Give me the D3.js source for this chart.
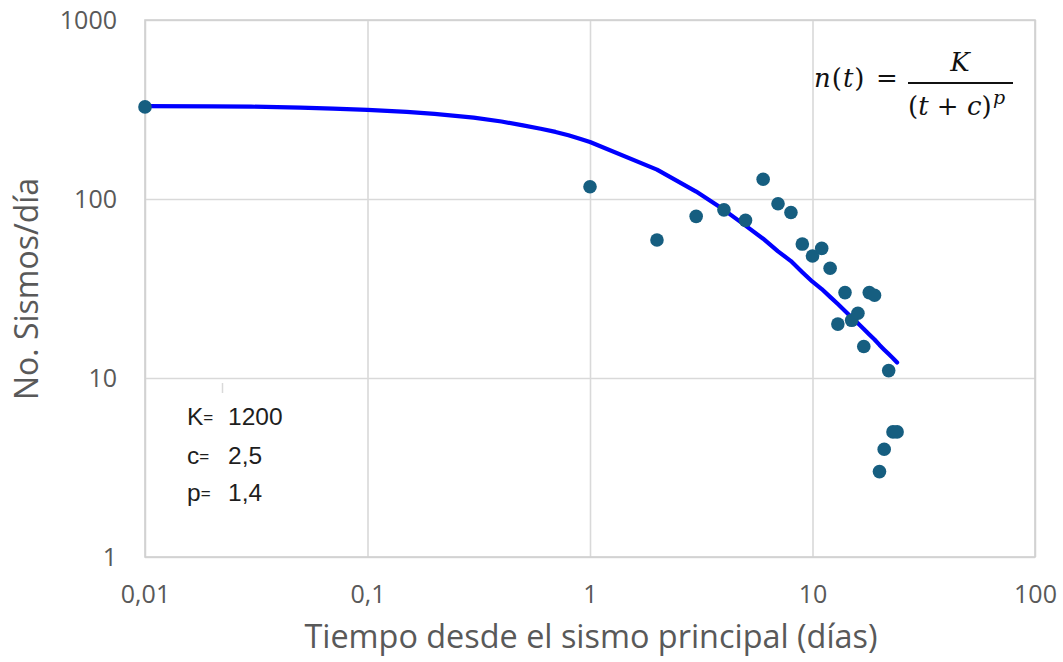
<!DOCTYPE html>
<html>
<head>
<meta charset="utf-8">
<script src="https://cdn.jsdelivr.net/npm/d3@7"></script>
<style>
  body { margin: 0; background: #fff; }
  svg { display: block; }
</style>
</head>
<body>
<svg id="chart" width="1063" height="662"></svg>
<script>
// observed daily counts (day 0 plotted at 0.01)
var obsDays = [0.01, 1, 2, 3, 4, 5, 6, 7, 8, 9, 10, 11, 12, 13, 14, 15, 16, 17, 18, 19, 20, 21, 22, 23, 24];
var obsCounts = [327, 117, 59, 80, 87, 76, 129, 94, 84, 56, 48, 53, 41, 20, 30, 21, 23, 15, 30, 29, 3, 4, 11, 5, 5];

// Omori fit curve
var fitDays = [0.01, 0.02, 0.03, 0.05, 0.07, 0.1, 0.15, 0.2, 0.3, 0.4, 0.5, 0.6, 0.7, 0.8, 0.9, 1, 2, 3, 4, 5, 6, 7, 8, 9, 10, 11, 12, 13, 14, 15, 16, 17, 18, 19, 20, 21, 22, 23, 24];
var fitCounts = [330, 329, 328, 324, 320, 315, 307, 299, 285, 271, 258, 247, 237, 227, 217, 208, 146, 110, 87, 71, 60, 51, 45, 39, 34.5, 31.4, 28.4, 25.9, 23.7, 21.8, 20.2, 18.8, 17.5, 16.4, 15.3, 14.4, 13.6, 12.9, 12.2];

var xTicks = [0.01, 0.1, 1, 10, 100];
var xTickLabels = ["0,01", "0,1", "1", "10", "100"];
var yTicks = [1, 10, 100, 1000];
var yTickLabels = ["1", "10", "100", "1000"];

var params = [["K", "1200"], ["c", "2,5"], ["p", "1,4"]];

window.onload = function() {
    drawChart();
};

function drawChart() {
    var svg = d3.select("#chart");
    var left = 145, right = 1035, top = 20, bottom = 557;

    var x = d3.scaleLog().domain([0.01, 100]).range([left, right]);
    var y = d3.scaleLog().domain([1, 1000]).range([bottom, top]);

    svg.append("rect").attr("width", 1063).attr("height", 662).attr("fill", "#fff");

    // gridlines + tick labels via axes
    var xAxis = d3.axisBottom(x)
        .tickValues(xTicks)
        .tickSize(-(bottom - top))
        .tickPadding(0)
        .tickFormat(function(d, i) { return xTickLabels[i]; });
    var gx = svg.append("g")
        .attr("transform", "translate(0," + bottom + ")")
        .call(xAxis);

    var yAxis = d3.axisLeft(y)
        .tickValues(yTicks)
        .tickSize(-(right - left))
        .tickPadding(0)
        .tickFormat(function(d, i) { return yTickLabels[i]; });
    var gy = svg.append("g")
        .attr("transform", "translate(" + left + ",0)")
        .call(yAxis);

    [gx, gy].forEach(function(g) {
        g.select(".domain").remove();
        g.selectAll(".tick line").attr("stroke", "#d9d9d9").attr("stroke-width", 1.6);
        g.selectAll(".tick text")
            .attr("fill", "#595959")
            .style("font-family", "'Open Sans', sans-serif")
            .style("font-size", "25px");
    });
    gx.selectAll(".tick text").attr("y", 46).attr("dy", null);
    gy.selectAll(".tick text").attr("x", -28).attr("dy", "0.35em");

    // plot border
    svg.append("rect")
        .attr("x", left).attr("y", top)
        .attr("width", right - left).attr("height", bottom - top)
        .attr("fill", "none").attr("stroke", "#d0d0d0").attr("stroke-width", 1.6);

    // fitted curve
    var line = d3.line()
        .x(function(d, i) { return x(fitDays[i]); })
        .y(function(d) { return y(d); });
    svg.append("path")
        .datum(fitCounts)
        .attr("d", line)
        .attr("fill", "none")
        .attr("stroke", "#0000ff")
        .attr("stroke-width", 4.2)
        .attr("stroke-linejoin", "round")
        .attr("stroke-linecap", "round");

    // observed points
    svg.append("g").selectAll("circle")
        .data(obsCounts)
        .enter().append("circle")
        .attr("cx", function(d, i) { return x(obsDays[i]); })
        .attr("cy", function(d) { return y(d); })
        .attr("r", 6.8)
        .attr("fill", "#165e80");

    // axis titles
    svg.append("text")
        .attr("x", 591)
        .attr("y", 648)
        .attr("text-anchor", "middle")
        .attr("fill", "#595959")
        .style("font-family", "'Open Sans', sans-serif")
        .style("font-size", "32.4px")
        .text("Tiempo desde el sismo principal (días)");

    svg.append("text")
        .attr("transform", "translate(38,289) rotate(-90)")
        .attr("text-anchor", "middle")
        .attr("fill", "#595959")
        .style("font-family", "'Open Sans', sans-serif")
        .style("font-size", "32px")
        .text("No. Sismos/día");

    // parameter box
    svg.append("line")
        .attr("x1", 222.5).attr("x2", 222.5).attr("y1", 383).attr("y2", 393)
        .attr("stroke", "#d9d9d9").attr("stroke-width", 1.5);

    var pg = svg.append("g")
        .style("font-family", "'Liberation Sans', Arial, sans-serif")
        .attr("fill", "#1e1e1e");
    var baselines = [425, 464, 501];
    params.forEach(function(p, i) {
        pg.append("text").attr("x", 187).attr("y", baselines[i])
            .style("font-size", "24.5px").text(p[0])
          .append("tspan").style("font-size", "17px").attr("dy", -2).text("=");
        pg.append("text").attr("x", 228).attr("y", baselines[i])
            .style("font-size", "24.5px").text(p[1]);
    });

    // formula n(t) = K / (t + c)^p
    var fg = svg.append("g")
        .style("font-family", "'DejaVu Serif', serif")
        .style("font-size", "26px")
        .attr("fill", "#111");
    fg.append("text").attr("x", 814).attr("y", 87)
        .attr("letter-spacing", 1)
        .html("<tspan font-style='italic'>n</tspan>(<tspan font-style='italic'>t</tspan>)");
    fg.append("text").attr("x", 876).attr("y", 87).text("=");
    fg.append("line")
        .attr("x1", 908).attr("x2", 1013).attr("y1", 83).attr("y2", 83)
        .attr("stroke", "#111").attr("stroke-width", 1.8);
    fg.append("text").attr("x", 960).attr("y", 71)
        .attr("text-anchor", "middle").attr("font-style", "italic").text("K");
    fg.append("text").attr("x", 908).attr("y", 115)
        .html("(<tspan font-style='italic'>t</tspan> + <tspan font-style='italic'>c</tspan>)");
    fg.append("text").attr("x", 993).attr("y", 104)
        .attr("font-style", "italic").style("font-size", "19px").text("p");
}
</script>
</body>
</html>
